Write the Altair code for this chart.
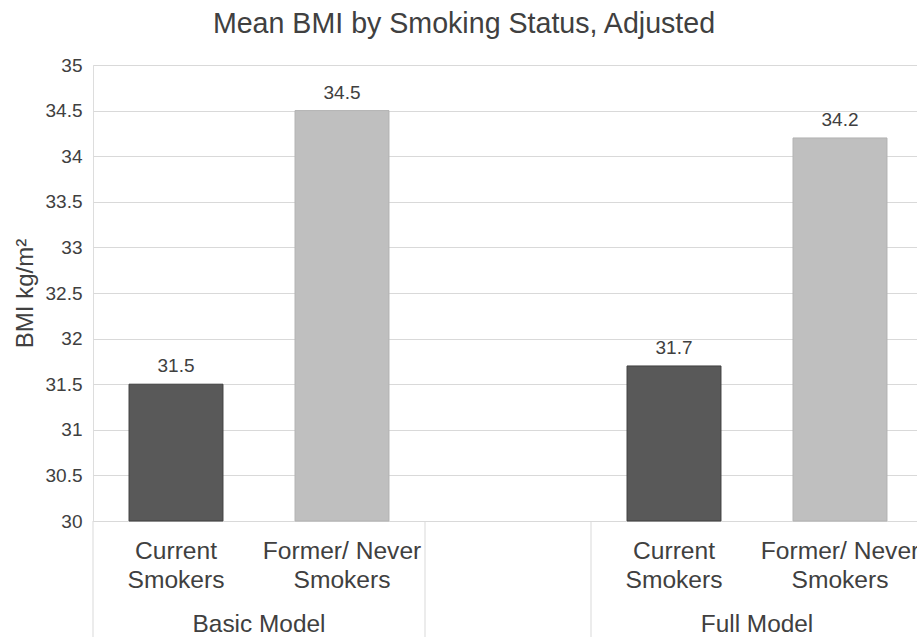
import altair as alt
import pandas as pd

# ---- data ----
chart_title = "Mean BMI by Smoking Status, Adjusted"
y_title = "BMI kg/m²"
models = ["Basic Model", "Full Model"]
statuses = ["Current\nSmokers", "Former/ Never\nSmokers"]
basic_bmi = [31.5, 34.5]
full_bmi = [31.7, 34.2]
y_ticks = [30, 30.5, 31, 31.5, 32, 32.5, 33, 33.5, 34, 34.5, 35]
y_min, y_max = 30, 35
bar_colors = ["#595959", "#bfbfbf"]
bar_strokes = ["#404040", "#b2b2b2"]

# ---- build tables ----
values_by_model = {"Basic Model": basic_bmi, "Full Model": full_bmi}
slots = []
rows = []
for gi, m in enumerate(models):
    if gi > 0:
        slots.append("gap")
    for si, s in enumerate(statuses):
        key = f"{m}|{si}"
        slots.append(key)
        rows.append({"slot": key, "model": m, "status": s, "status_key": str(si),
                     "bmi": values_by_model[m][si],
                     "label": f"{values_by_model[m][si]:.1f}"})
bars = pd.DataFrame(rows)

group_labels = pd.DataFrame({"slot": [f"{m}|1" for m in models], "model": models})
divider_starts = pd.DataFrame({"slot": [f"{models[0]}|0", "gap", f"{models[1]}|0"]})
divider_end = pd.DataFrame({"slot": [f"{models[-1]}|{len(statuses)-1}"]})

FONT = "Liberation Sans"
W, H = 824, 456
BOTTOM = 116

xscale = alt.Scale(domain=slots, range=[0, 830], paddingInner=0, paddingOuter=0)
yscale = alt.Scale(domain=[y_min, y_max], nice=False, zero=False)

base = alt.Chart(bars)

bar_layer = base.mark_bar(width=alt.RelativeBandSize(0.566), strokeWidth=1).encode(
    x=alt.X("slot:N", scale=xscale,
            axis=alt.Axis(labels=False, ticks=False, title=None, grid=False,
                          domainColor="#d9d9d9", domainWidth=1)),
    y=alt.Y("bmi:Q", scale=yscale,
            axis=alt.Axis(values=y_ticks, format=".1~f", grid=True, gridColor="#d9d9d9",
                          domain=False, ticks=False, labelPadding=11,
                          labelFontSize=19, labelColor="#404040", labelFont=FONT,
                          title=y_title, titleFontSize=24, titleFont=FONT,
                          titleFontWeight="normal", titleColor="#404040",
                          titlePadding=8)),
    y2=alt.datum(y_min),
    fill=alt.Fill("status_key:N", scale=alt.Scale(domain=["0", "1"], range=bar_colors), legend=None),
    stroke=alt.Stroke("status_key:N", scale=alt.Scale(domain=["0", "1"], range=bar_strokes), legend=None),
)

value_labels = base.mark_text(font=FONT, fontSize=19, color="#404040",
                              baseline="alphabetic", dy=-12).encode(
    x=alt.X("slot:N", scale=xscale),
    y=alt.Y("bmi:Q", scale=yscale),
    text="label:N",
)

cat_labels = base.mark_text(font=FONT, fontSize=24.6, color="#404040",
                            baseline="alphabetic", lineBreak="\n", lineHeight=29).encode(
    x=alt.X("slot:N", scale=xscale),
    y=alt.value(H + 38),
    text="status:N",
)

grp_labels = alt.Chart(group_labels).mark_text(font=FONT, fontSize=24.4, color="#404040",
                                               baseline="alphabetic").encode(
    x=alt.X("slot:N", scale=xscale, bandPosition=0),
    y=alt.value(H + 111),
    text="model:N",
)

div_a = alt.Chart(divider_starts).mark_rule(color="#d9d9d9", strokeWidth=1).encode(
    x=alt.X("slot:N", scale=xscale, bandPosition=0),
    y=alt.value(H), y2=alt.value(H + BOTTOM),
)
div_b = alt.Chart(divider_end).mark_rule(color="#d9d9d9", strokeWidth=1).encode(
    x=alt.X("slot:N", scale=xscale, bandPosition=1),
    y=alt.value(H), y2=alt.value(H + BOTTOM),
)

chart = alt.layer(bar_layer, value_labels, div_a, div_b, cat_labels, grp_labels).properties(
    width=W, height=H,
    title=alt.TitleParams(chart_title, font=FONT, fontSize=28.6, fontWeight="normal",
                          color="#404040", anchor="middle", frame="group", dx=-41, offset=17),
    padding={"left": 93, "top": 65, "right": 0, "bottom": BOTTOM},
    autosize=alt.AutoSizeParams(type="none"),
).configure_view(stroke=None).configure(background="white")

chart.save("out.html", embed_options={"renderer": "svg", "actions": False})
